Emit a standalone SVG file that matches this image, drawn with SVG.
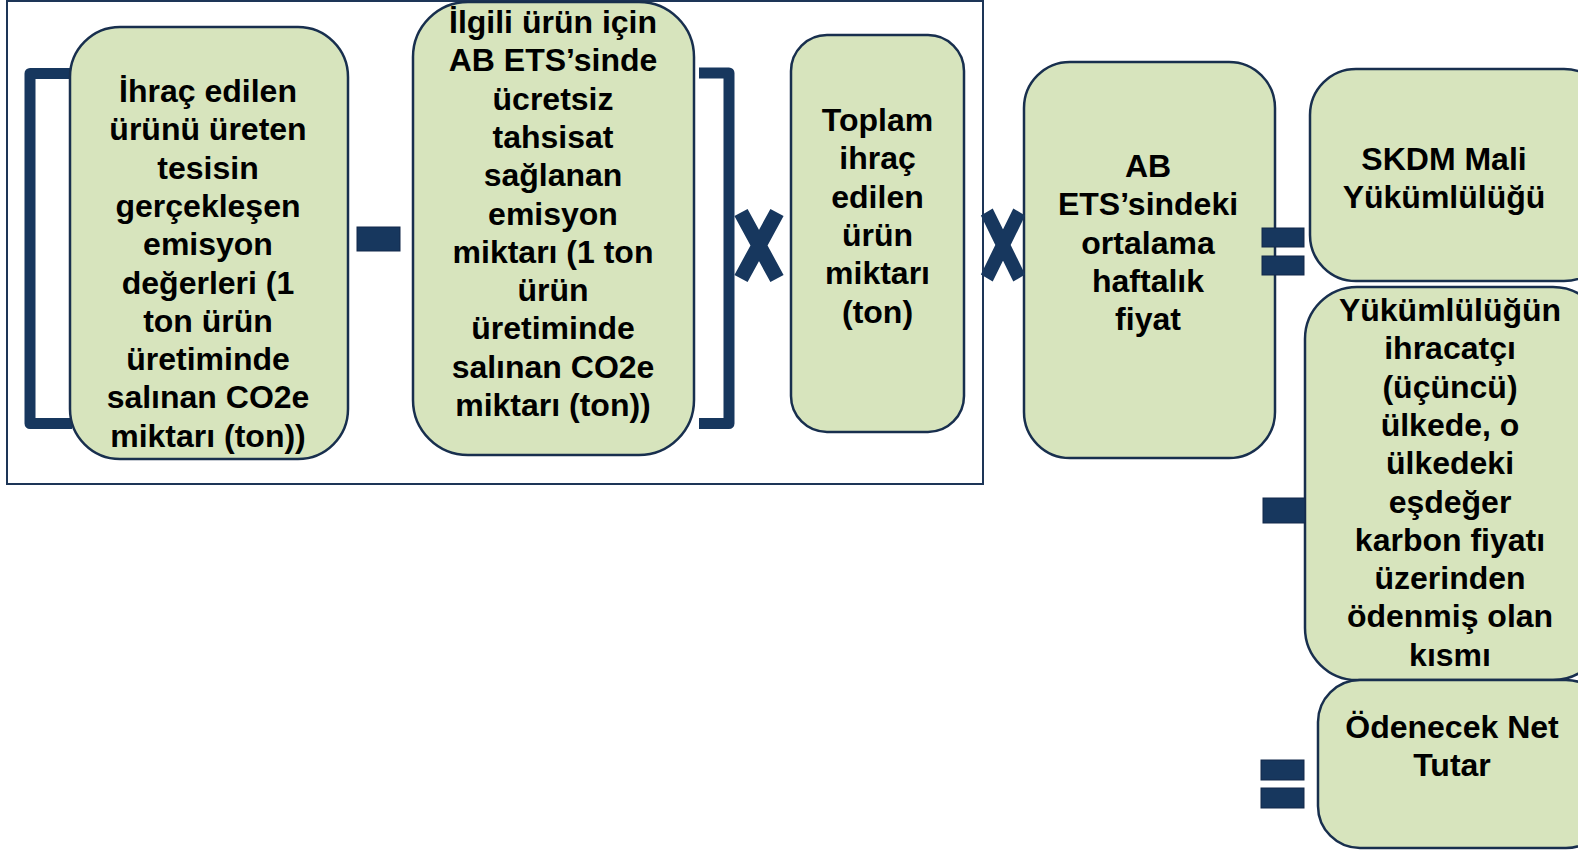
<svg xmlns="http://www.w3.org/2000/svg" width="1578" height="850" viewBox="0 0 1578 850">
<defs>
<style>
.box{fill:#d7e4bd;stroke:#182f4e;stroke-width:2.5}
.frame{fill:none;stroke:#1d3557;stroke-width:2}
.br{fill:none;stroke:#17375e;stroke-width:11;stroke-linejoin:round}
.sym{fill:#17375e;stroke:#13294a;stroke-width:1}
.x{stroke:#17375e;stroke-width:15;stroke-linecap:butt;fill:none}
text{font-family:"Liberation Sans",Arial,sans-serif;font-weight:bold;font-size:32px;fill:#000;text-anchor:middle}
</style>
<g id="mul"><path class="x" d="M-18,-33 L18,33 M18,-33 L-18,33"/></g>
</defs>
<rect class="frame" x="7" y="1" width="976" height="483"/>
<g id="connectors">
<path class="br" d="M72,73.5 H30 V423.5 H72"/>
<path class="br" d="M699,73 H729 V423.5 H699"/>
</g>
<g id="box1">
<rect class="box" x="70" y="27" width="278" height="432" rx="50"/>
<text x="208" y="102">İhraç edilen</text>
<text x="208" y="140.3">ürünü üreten</text>
<text x="208" y="178.6">tesisin</text>
<text x="208" y="216.9">gerçekleşen</text>
<text x="208" y="255.2">emisyon</text>
<text x="208" y="293.5">değerleri (1</text>
<text x="208" y="331.8">ton ürün</text>
<text x="208" y="370.1">üretiminde</text>
<text x="208" y="408.4">salınan CO2e</text>
<text x="208" y="446.7">miktarı (ton))</text>
</g>
<g id="box2">
<rect class="box" x="413" y="2" width="281" height="453" rx="55"/>
<text x="553" y="33">İlgili ürün için</text>
<text x="553" y="71.3">AB ETS’sinde</text>
<text x="553" y="109.6">ücretsiz</text>
<text x="553" y="147.9">tahsisat</text>
<text x="553" y="186.2">sağlanan</text>
<text x="553" y="224.5">emisyon</text>
<text x="553" y="262.8">miktarı (1 ton</text>
<text x="553" y="301.1">ürün</text>
<text x="553" y="339.4">üretiminde</text>
<text x="553" y="377.7">salınan CO2e</text>
<text x="553" y="416">miktarı (ton))</text>
</g>
<g id="box3">
<rect class="box" x="791" y="35" width="173" height="397" rx="36"/>
<text x="877.5" y="131">Toplam</text>
<text x="877.5" y="169.3">ihraç</text>
<text x="877.5" y="207.6">edilen</text>
<text x="877.5" y="245.9">ürün</text>
<text x="877.5" y="284.2">miktarı</text>
<text x="877.5" y="322.5">(ton)</text>
</g>
<g id="box4">
<rect class="box" x="1024" y="62" width="251" height="396" rx="46"/>
<text x="1148" y="177">AB</text>
<text x="1148" y="215.3">ETS’sindeki</text>
<text x="1148" y="253.6">ortalama</text>
<text x="1148" y="291.9">haftalık</text>
<text x="1148" y="330.2">fiyat</text>
</g>
<g id="box5">
<rect class="box" x="1310" y="69" width="300" height="212" rx="46"/>
<text x="1444" y="170">SKDM Mali</text>
<text x="1444" y="208.3">Yükümlülüğü</text>
</g>
<g id="box6">
<rect class="box" x="1305" y="287" width="300" height="393" rx="52"/>
<text x="1450" y="321">Yükümlülüğün</text>
<text x="1450" y="359.3">ihracatçı</text>
<text x="1450" y="397.6">(üçüncü)</text>
<text x="1450" y="435.9">ülkede, o</text>
<text x="1450" y="474.2">ülkedeki</text>
<text x="1450" y="512.5">eşdeğer</text>
<text x="1450" y="550.8">karbon fiyatı</text>
<text x="1450" y="589.1">üzerinden</text>
<text x="1450" y="627.4">ödenmiş olan</text>
<text x="1450" y="665.7">kısmı</text>
</g>
<g id="box7">
<rect class="box" x="1318" y="680" width="290" height="168" rx="42"/>
<text x="1452" y="738">Ödenecek Net</text>
<text x="1452" y="776.3">Tutar</text>
</g>
<g id="operators">
<rect class="sym" x="357" y="227" width="43" height="24"/>
<use href="#mul" transform="translate(759,245.5)"/>
<use href="#mul" transform="translate(1003,245) scale(0.9,1)"/>
<rect class="sym" x="1262" y="228" width="42" height="19"/>
<rect class="sym" x="1262" y="256" width="42" height="19"/>
<rect class="sym" x="1263" y="498" width="42" height="25"/>
<rect class="sym" x="1261" y="760" width="43" height="20"/>
<rect class="sym" x="1261" y="788" width="43" height="20"/>
</g>
</svg>
